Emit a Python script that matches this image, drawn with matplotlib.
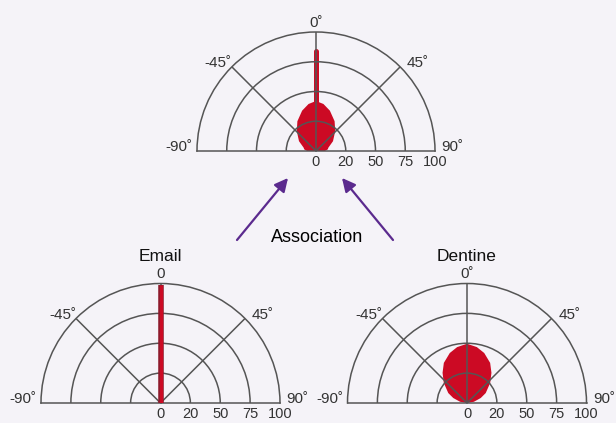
import matplotlib.pyplot as plt
import numpy as np

plt.rcParams['font.family'] = ['Liberation Sans', 'DejaVu Sans']

# radial scale: labelled values sit on evenly spaced rings
ring_values = [0, 20, 50, 75, 100]
ring_pos = [0, 1, 2, 3, 4]
angle_ticks = [-90, -45, 0, 45, 90]

# Association (top): main lobe + narrow spike at 0 deg
assoc_theta = [-90, -82, -75, -60, -44, -32, -19, -9, 0, 9, 19, 32, 44, 60, 75, 82, 90]
assoc_r = [6, 8, 8.6, 13.2, 18.6, 25.4, 33, 38, 40.4, 38, 33, 25.4, 18.6, 13.2, 8.6, 8, 6]
assoc_spike_theta = [0, 0]
assoc_spike_r = [38, 84]

# Email: single narrow spike
email_theta = [0, 0]
email_r = [0, 99]

# Dentine: broad lobe
dent_theta = [-90, -80, -70, -62, -49, -39, -30, -19, -10, 0, 10, 19, 30, 39, 49, 62, 70, 80, 90]
dent_r = [0, 4.7, 9.8, 14.2, 20.9, 29, 36.5, 43.1, 47, 49.5, 47, 43.1, 36.5, 29, 20.9, 14.2, 9.8, 4.7, 0]

bg = '#f5f3f8'
red = '#cc0a24'
grid_c = '#555555'
text_c = '#333333'
purple = '#5b2a8e'

W, H = 616, 423
fig = plt.figure(figsize=(W / 100, H / 100), dpi=100, facecolor=bg)


def to_ring(r):
    return np.interp(r, ring_values, ring_pos)


def from_ring(p):
    return np.interp(p, ring_pos, ring_values)


def half_polar(cx, cy, R, top_label, title=None):
    # cx, cy, R in image pixels (y from the top); polar axes stay square,
    # the half disc is centred in that square
    ax = fig.add_axes([(cx - R) / W, (H - cy - 0.5 * R) / H, 2 * R / W, 2 * R / H],
                      projection='polar')
    ax.set_theta_zero_location('N')
    ax.set_theta_direction(-1)
    ax.set_thetamin(-90)
    ax.set_thetamax(90)
    ax.set_rscale('function', functions=(to_ring, from_ring))
    ax.set_rlim(0, 100)
    ax.set_rgrids(ring_values[1:-1], labels=[''] * 3)
    ax.set_thetagrids([-45, 0, 45], labels=['', '', ''])
    ax.grid(True, color=grid_c, lw=1.1)
    for s in ax.spines.values():
        s.set_color(grid_c)
        s.set_linewidth(1.1)
    ax.spines['inner'].set_visible(False)
    ax.patch.set_visible(False)
    ax.tick_params(length=0, pad=0)

    kw = dict(textcoords='offset points', fontsize=11, color=text_c,
              va='baseline', annotation_clip=False)
    deg = '\u02da'
    for a in angle_ticks:
        t = np.deg2rad(a)
        lab = f'{a}{deg}'
        if a == 0:
            ax.annotate(top_label, (t, 100), xytext=(0, 3.6), ha='center', **kw)
        elif a == -45:
            ax.annotate(lab, (t, 100), xytext=(0, 0), ha='right', **kw)
        elif a == 45:
            ax.annotate(lab, (t, 100), xytext=(5, 0), ha='left', **kw)
        elif a == -90:
            ax.annotate(lab, (t, 100), xytext=(-3, 0), ha='right', **kw)
        else:
            ax.annotate(lab, (t, 100), xytext=(4.5, 0), ha='left', **kw)
    # radial labels along the right half of the baseline
    for v in ring_values:
        ax.annotate(str(v), (np.pi / 2, v), xytext=(0, -3), textcoords='offset points',
                    ha='center', va='top', fontsize=10.5, color=text_c, annotation_clip=False)
    if title:
        ax.annotate(title, (0, 100), xytext=(0, 16.5), textcoords='offset points',
                    ha='center', va='baseline', fontsize=12.5, color='#111111',
                    annotation_clip=False)
    return ax


ax_top = half_polar(316, 151, 119, '0\u02da')
ax_top.fill(np.deg2rad(assoc_theta), assoc_r, color=red, lw=0, zorder=1)
ax_top.plot(np.deg2rad(assoc_spike_theta), assoc_spike_r, color=red, lw=3.6, zorder=1,
            solid_capstyle='round')

ax_email = half_polar(160.5, 403, 119.5, '0', 'Email')
ax_email.plot(np.deg2rad(email_theta), email_r, color='#8e1a2c', lw=4, zorder=3,
              solid_capstyle='butt')
ax_email.plot(np.deg2rad(email_theta), email_r, color=red, lw=2.2, zorder=3,
              solid_capstyle='butt')

ax_dent = half_polar(467, 403, 119.5, '0\u02da', 'Dentine')
ax_dent.fill(np.deg2rad(dent_theta), dent_r, color=red, lw=0, zorder=1)

# arrows into the combined (association) plot
fig.text(317 / W, 1 - 237 / H, 'Association', ha='center', va='center', fontsize=13)
for tail, tip in [((237, 240), (288, 178)), ((393, 240), (342, 178))]:
    ax_top.annotate('', xy=(tip[0], H - tip[1]), xytext=(tail[0], H - tail[1]),
                    xycoords='figure pixels', textcoords='figure pixels',
                    arrowprops=dict(arrowstyle='-|>', color=purple, lw=1.6,
                                    mutation_scale=20, shrinkA=0, shrinkB=0))

fig.savefig('out.png', dpi=100, facecolor=bg)
